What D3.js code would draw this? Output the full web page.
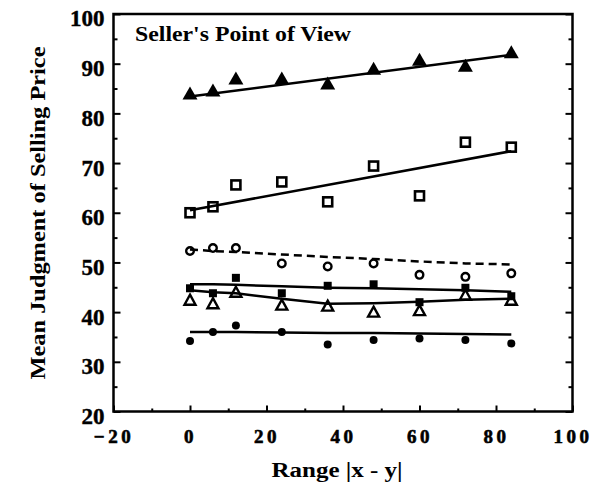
<!DOCTYPE html>
<html>
<head>
<meta charset="utf-8">
<script src="https://cdn.jsdelivr.net/npm/d3@7"></script>
<style>
  body { margin: 0; background: #fff; }
  text { font-family: "Liberation Serif", "Times New Roman", serif; font-weight: bold; fill: #000; }
</style>
</head>
<body>
<svg width="602" height="491"></svg>
<script>
// range |x - y| values shared by all series
var ranges = [0, 6, 12, 24, 36, 48, 60, 72, 84];

// mean judgments, one array per condition
var filledTriangles = [84.1, 84.7, 87.1, 87.1, 86.1, 89.1, 90.9, 89.7, 92.4];
var openSquares     = [60.0, 61.2, 65.6, 66.2, 62.2, 69.4, 63.4, 74.2, 73.2];
var openCircles     = [52.3, 52.9, 52.9, 49.8, 49.2, 49.8, 47.5, 47.1, 47.8];
var filledSquares   = [44.8, 43.8, 46.9, 43.8, 45.3, 45.6, 42.0, 44.9, 43.2];
var openTriangles   = [42.5, 41.8, 44.1, 41.5, 41.3, 40.1, 40.4, 43.5, 42.5];
var filledCircles   = [34.2, 36.0, 37.3, 36.0, 33.5, 34.4, 34.7, 34.4, 33.7];

// fitted lines
var fitEnds = [0, 84];
var fitFilledTriangles = [83.4, 91.8];
var fitOpenSquares     = [60.5, 72.4];
var fitOpenCircles     = [52.6, 52.3, 52.1, 51.6, 51.1, 50.7, 50.2, 49.8, 49.6];
var fitFilledSquares   = [45.6, 45.6, 45.5, 45.2, 44.9, 44.8, 44.6, 44.4, 44.1];
var fitOpenTriangles   = [44.4, 44.0, 43.8, 42.7, 41.7, 41.8, 42.1, 42.5, 42.7];
var fitFilledCircles   = [36.0, 36.0, 36.0, 35.9, 35.8, 35.8, 35.7, 35.6, 35.5];

var xMajorTicks = [-20, 0, 20, 40, 60, 80, 100];
var xMinorTicks = [-10, 10, 30, 50, 70, 90];
var yMajorTicks = [20, 30, 40, 50, 60, 70, 80, 90, 100];
var yMinorTicks = [25, 35, 45, 55, 65, 75, 85, 95];

var chartTitle = "Seller's Point of View";
var xTitle = "Range |x - y|";
var yTitle = "Mean Judgment of Selling Price";

var svg = d3.select("svg"),
    margin = {top: 14, right: 29.5, bottom: 79.5, left: 113.5},
    width = +svg.attr("width") - margin.left - margin.right,
    height = +svg.attr("height") - margin.top - margin.bottom;

var xScale = d3.scaleLinear().domain([-20, 100]).range([0, width]);
var yScale = d3.scaleLinear().domain([20, 100]).range([height, 0]);

var g = svg.append("g")
    .attr("transform", "translate(" + margin.left + "," + margin.top + ")");

function zip(xs, ys) {
    return xs.map(function (x, i) { return [x, ys[i]]; });
}

function styleAxis(sel) {
    sel.select(".domain").remove();
    sel.selectAll(".tick line").attr("stroke", "#000").attr("stroke-width", 2);
}

// axes: ticks point inward
var left = g.append("g")
    .call(d3.axisLeft(yScale).tickValues(yMajorTicks).tickSize(-7).tickPadding(9));
left.selectAll("text").attr("font-size", 23).attr("dy", "0.52em")
    .attr("stroke", "#000").attr("stroke-width", 0.4);
styleAxis(left);
styleAxis(g.append("g").call(d3.axisLeft(yScale).tickValues(yMinorTicks).tickSize(-4).tickFormat("")));

styleAxis(g.append("g").attr("transform", "translate(" + width + ",0)")
    .call(d3.axisRight(yScale).tickValues(yMajorTicks).tickSize(-7).tickFormat("")));
styleAxis(g.append("g").attr("transform", "translate(" + width + ",0)")
    .call(d3.axisRight(yScale).tickValues(yMinorTicks).tickSize(-4).tickFormat("")));

var bottom = g.append("g")
    .attr("transform", "translate(0," + height + ")")
    .call(d3.axisBottom(xScale).tickValues(xMajorTicks).tickSize(-6).tickPadding(18));
bottom.selectAll("text").attr("font-size", 19).attr("letter-spacing", 3.5)
    .attr("stroke", "#000").attr("stroke-width", 0.6);
styleAxis(bottom);
styleAxis(g.append("g")
    .attr("transform", "translate(0," + height + ")")
    .call(d3.axisBottom(xScale).tickValues(xMinorTicks).tickSize(-3).tickFormat("")));

g.selectAll(".tick text").attr("font-family", "Liberation Serif").attr("font-weight", "bold").attr("fill", "#000");

// plot frame
g.append("rect")
    .attr("width", width)
    .attr("height", height)
    .attr("fill", "none")
    .attr("stroke", "#000")
    .attr("stroke-width", 2.5);

// fitted lines
var line = d3.line()
    .x(function (d) { return xScale(d[0]); })
    .y(function (d) { return yScale(d[1]); });

var fits = [
    {pts: zip(fitEnds, fitFilledTriangles), dash: null},
    {pts: zip(fitEnds, fitOpenSquares), dash: null},
    {pts: zip(ranges, fitOpenCircles), dash: "8,5"},
    {pts: zip(ranges, fitFilledSquares), dash: null},
    {pts: zip(ranges, fitOpenTriangles), dash: null},
    {pts: zip(ranges, fitFilledCircles), dash: null}
];

g.selectAll(".fit")
    .data(fits)
    .enter().append("path")
    .attr("class", "fit")
    .attr("d", function (d) { return line(d.pts); })
    .attr("fill", "none")
    .attr("stroke", "#000")
    .attr("stroke-width", 2.5)
    .attr("stroke-dasharray", function (d) { return d.dash; });

// markers
function trianglePath(w, h) {
    return "M0," + (-h / 2) + "L" + (w / 2) + "," + (h / 2) + "L" + (-w / 2) + "," + (h / 2) + "Z";
}

function markers(values, cls, draw) {
    var sel = g.selectAll("." + cls)
        .data(zip(ranges, values))
        .enter().append("g")
        .attr("class", cls)
        .attr("transform", function (d) {
            return "translate(" + [xScale(d[0]), yScale(d[1])] + ")";
        });
    draw(sel);
}

markers(filledCircles, "fcir", function (s) {
    s.append("circle").attr("r", 4).attr("fill", "#000");
});
markers(openCircles, "ocir", function (s) {
    s.append("circle").attr("r", 3.8).attr("fill", "none").attr("stroke", "#000").attr("stroke-width", 2.4);
});
markers(openTriangles, "otri", function (s) {
    s.append("path").attr("d", trianglePath(11, 10)).attr("fill", "none")
        .attr("stroke", "#000").attr("stroke-width", 2.4).attr("stroke-linejoin", "miter");
});
markers(filledSquares, "fsq", function (s) {
    s.append("rect").attr("x", -4).attr("y", -4).attr("width", 8).attr("height", 8).attr("fill", "#000");
});
markers(openSquares, "osq", function (s) {
    s.append("rect").attr("x", -4.5).attr("y", -4.5).attr("width", 9).attr("height", 9)
        .attr("fill", "none").attr("stroke", "#000").attr("stroke-width", 2.6);
});
markers(filledTriangles, "ftri", function (s) {
    s.append("path").attr("d", trianglePath(15, 13)).attr("fill", "#000");
});

// titles
svg.append("text")
    .attr("x", 135)
    .attr("y", 41)
    .attr("font-size", 22)
    .attr("textLength", 216)
    .attr("lengthAdjust", "spacingAndGlyphs")
    .text(chartTitle);

svg.append("text")
    .attr("x", 337)
    .attr("y", 477)
    .attr("text-anchor", "middle")
    .attr("font-size", 20)
    .attr("textLength", 131)
    .attr("lengthAdjust", "spacingAndGlyphs")
    .text(xTitle);

svg.append("text")
    .attr("transform", "translate(45,213) rotate(-90)")
    .attr("text-anchor", "middle")
    .attr("font-size", 22)
    .attr("textLength", 333)
    .attr("lengthAdjust", "spacingAndGlyphs")
    .text(yTitle);
</script>
</body>
</html>
